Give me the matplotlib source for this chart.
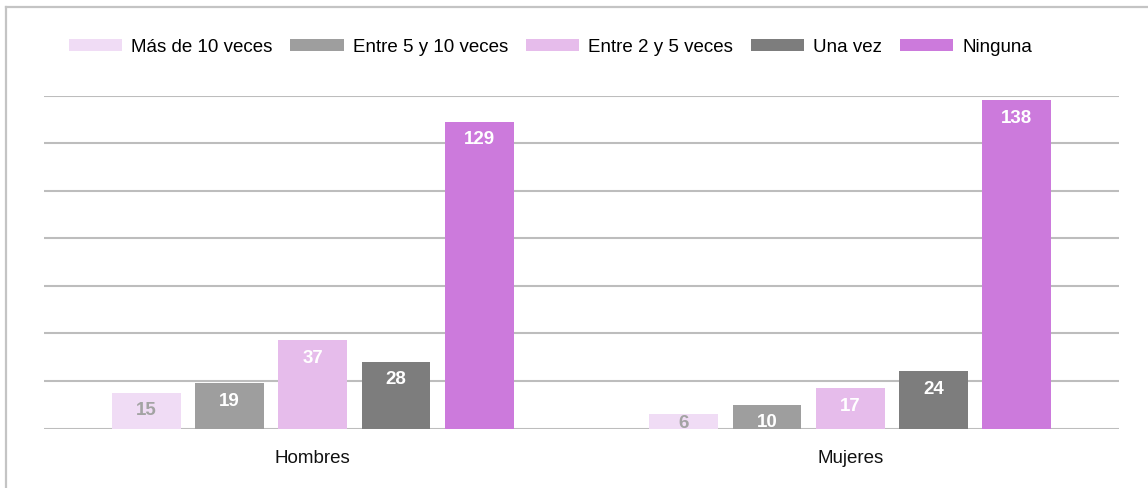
import numpy as np
import matplotlib
matplotlib.use("Agg")
import matplotlib.pyplot as plt
from matplotlib.lines import Line2D

plt.rcParams['font.family'] = ['Liberation Sans', 'DejaVu Sans']

# ── Data ─────────────────────────────────────────────────────────
groups = ["Hombres", "Mujeres"]
series = ["Más de 10 veces", "Entre 5 y 10 veces", "Entre 2 y 5 veces",
          "Una vez", "Ninguna"]
values = [
    [15, 6],     # Más de 10 veces
    [19, 10],    # Entre 5 y 10 veces
    [37, 17],    # Entre 2 y 5 veces
    [28, 24],    # Una vez
    [129, 138],  # Ninguna
]
colors = ["#f0dcf5", "#9e9e9e", "#e6bceb", "#7d7d7d", "#cc7adc"]
label_colors = ["#a3a3a3", "white", "white", "white", "white"]

W, H = 1148, 489
fig = plt.figure(figsize=(W / 100, H / 100), dpi=100)
ax = fig.add_axes([44 / W, 1 - 429.5 / H, (1119 - 44) / W, (429.5 - 96.5) / H])

x = np.arange(len(groups))
pitch = 0.155
width = 0.128

for i, (name, vals) in enumerate(zip(series, values)):
    xs = x + (i - 2) * pitch
    bars = ax.bar(xs, vals, width, color=colors[i], label=name, zorder=3)
    for b, v in zip(bars, vals):
        # value sits just under the bar top, kept inside short bars
        y_top = max(v - 3.6, 6.3)
        ax.text(b.get_x() + b.get_width() / 2, y_top, str(v),
                ha="center", va="top", fontsize=13.5, fontweight="bold",
                color=label_colors[i], zorder=4)

ax.set_xlim(-0.5, 1.5)
ax.set_ylim(0, 140)
ax.set_yticks(np.arange(0, 141, 20))
ax.yaxis.grid(True, color="#bdbdbd", linewidth=1.5, zorder=0)
ax.tick_params(axis="y", length=0, labelleft=False)
ax.tick_params(axis="x", length=0, pad=15, labelsize=13.5)
ax.set_xticks(x)
ax.set_xticklabels(groups, color="#111111")
for s in ax.spines.values():
    s.set_visible(False)

# legend row above the plot
fig.legend(loc="center left", bbox_to_anchor=(61 / W, 1 - 48 / H),
           ncol=5, frameon=False, fontsize=13.5,
           handlelength=2.85, handleheight=0.58, handletextpad=0.48,
           columnspacing=0.95, borderaxespad=0)

# partial frame: left and top edge
fig.add_artist(Line2D([6 / W, 6 / W], [0, 1 - 8 / H], transform=fig.transFigure,
                      color="#c4c4c4", linewidth=1.6))
fig.add_artist(Line2D([6 / W, 1], [1 - 8 / H, 1 - 8 / H], transform=fig.transFigure,
                      color="#c4c4c4", linewidth=1.6))

fig.savefig("out.png", dpi=100)
